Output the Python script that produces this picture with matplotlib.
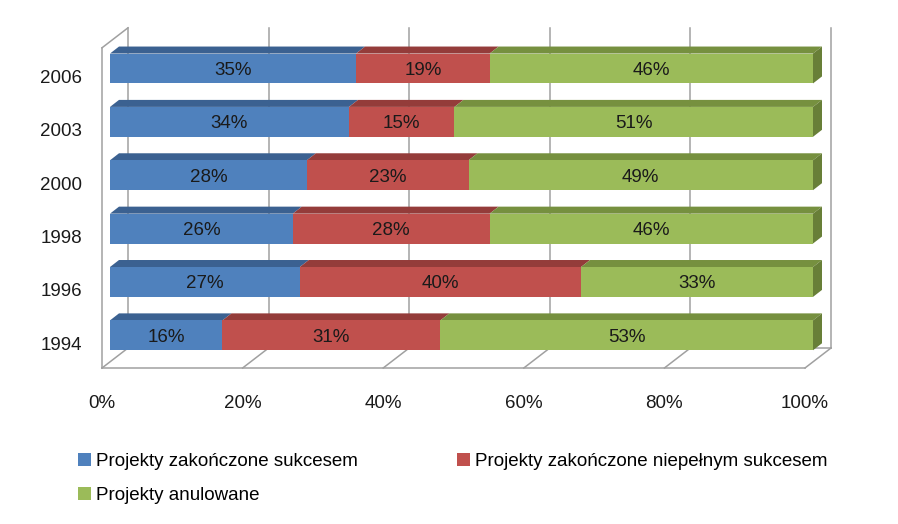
import matplotlib
matplotlib.use("Agg")
import matplotlib.pyplot as plt
from matplotlib.patches import Polygon, Patch

plt.rcParams["font.family"] = ["Liberation Sans", "DejaVu Sans"]

# dane
years = ["1994", "1996", "1998", "2000", "2003", "2006"]
sukces = [16, 27, 26, 28, 34, 35]
niepelny = [31, 40, 28, 23, 15, 19]
anulowane = [53, 33, 46, 49, 51, 46]
series_names = ["Projekty zakończone sukcesem",
                "Projekty zakończone niepełnym sukcesem",
                "Projekty anulowane"]
x_ticks = [0, 20, 40, 60, 80, 100]
x_tick_labels = ["0%", "20%", "40%", "60%", "80%", "100%"]

face_col = ["#4F81BD", "#C0504D", "#9BBB59"]
top_col = ["#3B6191", "#943C3A", "#76903F"]
side_col = ["#34557F", "#7F3230", "#687F38"]
wall_col = "#A0A0A0"
txt_col = "#1A1A1A"
FS = 13.5

W, H = 898, 524
fig = plt.figure(figsize=(W / 100, H / 100), dpi=100)

# front plane of the bars, in pixels
x0px, x1px = 110, 813
ytop, ybot = 41.8, 362
ax = fig.add_axes([x0px / W, 1 - ybot / H, (x1px - x0px) / W, (ybot - ytop) / H])
ax.set_xlim(0, 100)
ax.set_ylim(-0.5, 5.5)
ax.axis("off")

px_x = (x1px - x0px) / 100.0
px_y = (ybot - ytop) / 6.0


def off(dx, dy):
    # pixel offset -> data units
    return dx / px_x, dy / px_y


bar_d = off(9, 7)
back = off(18, 14)
front = off(-8, -6)
lkw = dict(color=wall_col, lw=1.1, clip_on=False, zorder=1)

# back wall gridlines + floor diagonals
for t in x_ticks:
    ax.plot([t + back[0]] * 2, [-0.5 + back[1], 5.5 + back[1]], **lkw)
    ax.plot([t + front[0], t + back[0]], [-0.5 + front[1], -0.5 + back[1]], **lkw)
ax.plot([front[0], 100 + front[0]], [-0.5 + front[1]] * 2, **lkw)
ax.plot([back[0], 100 + back[0]], [-0.5 + back[1]] * 2, **lkw)
# left wall
ax.plot([front[0]] * 2, [-0.5 + front[1], 5.5 + front[1]], **lkw)
ax.plot([front[0], back[0]], [5.5 + front[1], 5.5 + back[1]], **lkw)

# bars
h = 0.56
txt_shift = off(0, 2)[1]
data = [sukces, niepelny, anulowane]
for i, yr in enumerate(years):
    left = 0
    for k, vals in enumerate(data):
        w = vals[i]
        ax.barh(i, w, left=left, height=h, color=face_col[k], zorder=3, linewidth=0)
        yt = i + h / 2
        ax.add_patch(Polygon([(left, yt), (left + w, yt),
                              (left + w + bar_d[0], yt + bar_d[1]),
                              (left + bar_d[0], yt + bar_d[1])],
                             closed=True, facecolor=top_col[k], lw=0, zorder=2,
                             clip_on=False))
        ax.text(left + w / 2, i - txt_shift, f"{w}%", ha="center", va="center",
                fontsize=FS, color=txt_col, zorder=5)
        left += w
    ax.add_patch(Polygon([(left, i - h / 2), (left, i + h / 2),
                          (left + bar_d[0], i + h / 2 + bar_d[1]),
                          (left + bar_d[0], i - h / 2 + bar_d[1])],
                         closed=True, facecolor=side_col[2], lw=0, zorder=2,
                         clip_on=False))

# axis labels
lab_dx, lab_dy0 = off(20, 4)
for i, yr in enumerate(years):
    ax.text(front[0] - lab_dx, i + front[1] - lab_dy0, yr, ha="right", va="center",
            fontsize=FS, color=txt_col, clip_on=False)
lab_dy = off(0, 35)[1]
for t, lab in zip(x_ticks, x_tick_labels):
    ax.text(t + front[0], -0.5 + front[1] - lab_dy, lab, ha="center", va="center",
            fontsize=FS, color=txt_col, clip_on=False)

# legend (row-wise like in Excel)
handles = [Patch(facecolor=c, edgecolor="none") for c in face_col]
lkw2 = dict(frameon=False, fontsize=FS, handlelength=0.68, handleheight=0.68,
            handletextpad=0.3, labelspacing=0.9, borderpad=0, borderaxespad=0,
            loc="upper left")
fig.legend([handles[0], handles[2]], [series_names[0], series_names[2]],
           bbox_to_anchor=(78 / W, 1 - 453 / H), **lkw2)
fig.legend([handles[1]], [series_names[1]],
           bbox_to_anchor=(457 / W, 1 - 453 / H), **lkw2)

fig.savefig("out.png", dpi=100)
